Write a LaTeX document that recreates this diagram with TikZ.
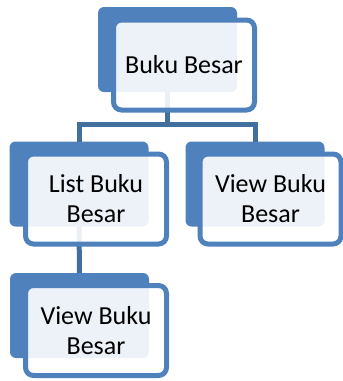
\documentclass[tikz,border=0pt]{standalone}
\usepackage{fontspec}
\setmainfont{Carlito}
\definecolor{accent}{HTML}{4F81BD}
\definecolor{linkc}{HTML}{41709F}
\begin{document}
\begin{tikzpicture}[x=1pt,y=-1pt,
  backbox/.style={fill=accent, draw=none, rounded corners=6pt, minimum width=139pt, minimum height=85pt, inner sep=0pt, outer sep=0pt},
  frontbox/.style={draw=accent, line width=5pt, fill=white, fill opacity=0.9, text opacity=1, rounded corners=8pt, minimum width=141pt, minimum height=90pt, inner sep=0pt, outer sep=0pt, align=center, font=\fontsize{26}{30}\selectfont},
  link/.style={draw=linkc, line width=5pt}]
\useasboundingbox (0,0) rectangle (343,381);
% back boxes
\node[backbox] (b0) at (167.5,49.5) {};
\node[backbox] (b1) at (79,184) {};
\node[backbox] (b2) at (255,184) {};
\node[backbox] (b3) at (79.5,315.5) {};
% connectors
\coordinate (j) at (167.5,124.5);
\draw[link] (b0.south) -- (j);
\draw[link] (b1.north) |- (j) -| (b2.north);
\draw[link] (b1.south) -- (b3.north);
% front boxes
\node[frontbox] (f0) at (184,65) {Buku Besar};
\node[frontbox] (f1) at (96,199) {List Buku\\Besar};
\node[frontbox] (f2) at (270.5,199) {View Buku\\Besar};
\node[frontbox] (f3) at (96,330.5) {View Buku\\Besar};
\end{tikzpicture}
\end{document}
